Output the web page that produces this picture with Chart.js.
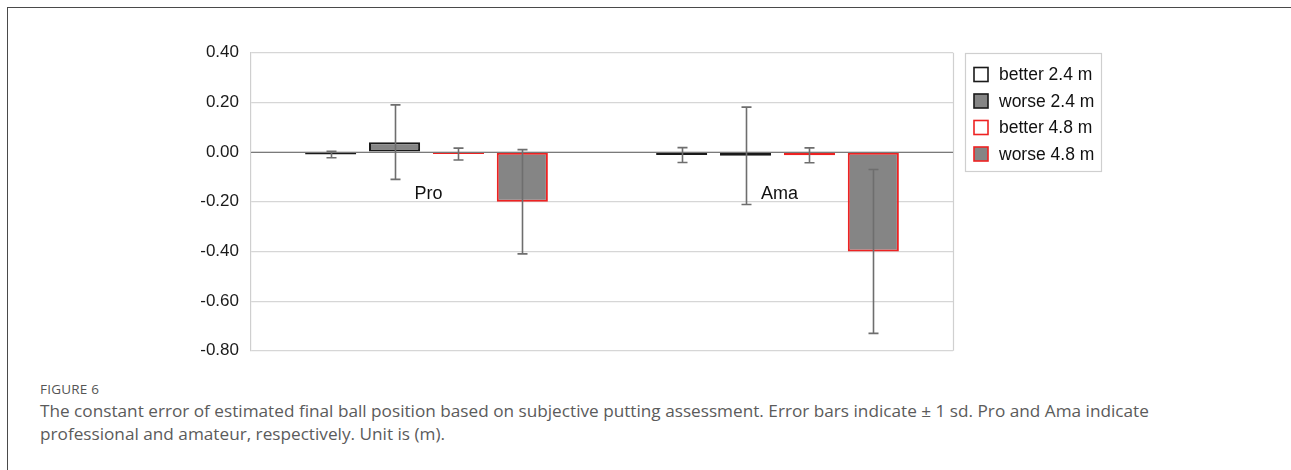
<!DOCTYPE html>
<html>
<head>
<meta charset="utf-8">
<script src="https://cdn.jsdelivr.net/npm/chart.js@4/dist/chart.umd.min.js"></script>
<style>
  html, body { margin: 0; padding: 0; background: #fff; }
  body { width: 1291px; height: 470px; position: relative; overflow: hidden; }
  .frame { position: absolute; left: 7px; top: 7px; right: -2px; bottom: -2px;
           border-top: 1.5px solid #4a4a4a; border-left: 1.5px solid #4a4a4a; }
  .chart { position: absolute; left: 0; top: 0; width: 1291px; height: 373px; }
  .fig { position: absolute; left: 40px; top: 380px; font-family: "Open Sans", sans-serif;
         font-size: 13.5px; color: #555; letter-spacing: 0.2px; }
  .cap { position: absolute; left: 40px; top: 399px; font-family: "Open Sans", sans-serif;
         font-size: 17.2px; line-height: 23px; color: #5b5b5b; }
</style>
</head>
<body>
<div class="frame"></div>
<div class="chart"><canvas id="c" width="1291" height="373"></canvas></div>
<div class="fig">FIGURE 6</div>
<div class="cap">The constant error of estimated final ball position based on subjective putting assessment. Error bars indicate ± 1 sd. Pro and Ama indicate<br>professional and amateur, respectively. Unit is (m).</div>
<script>
// Groups and mean constant error (m) per condition
const groups = ["Pro", "Ama"];
const better24 = [-0.010, -0.012];
const worse24 = [0.040, -0.015];
const better48 = [-0.008, -0.013];
const worse48 = [-0.200, -0.400];
// Standard deviations for the error bars
const better24Sd = [0.013, 0.030];
const worse24Sd = [0.150, 0.196];
const better48Sd = [0.024, 0.030];
const worse48Sd = [0.210, 0.330];
// Axis ticks
const yTicks = [0.40, 0.20, 0.00, -0.20, -0.40, -0.60, -0.80];

const seriesLabels = ["better 2.4 m", "worse 2.4 m", "better 4.8 m", "worse 4.8 m"];
const sds = [better24Sd, worse24Sd, better48Sd, worse48Sd];

function ds(label, data, fill, stroke) {
  return { label, data, backgroundColor: fill, borderColor: stroke, borderWidth: 2,
           borderSkipped: false, categoryPercentage: 0.728, barPercentage: 0.8 };
}

const errorBars = {
  id: "errorBars",
  afterDatasetsDraw(chart) {
    const ctx = chart.ctx, y = chart.scales.y;
    ctx.save();
    ctx.strokeStyle = "#6e6e6e";
    ctx.lineWidth = 1.6;
    chart.data.datasets.forEach((d, i) => {
      const meta = chart.getDatasetMeta(i);
      meta.data.forEach((el, j) => {
        const v = d.data[j], s = sds[i][j];
        const yt = y.getPixelForValue(v + s), yb = y.getPixelForValue(v - s);
        const x = Math.round(el.x) + 0.5;
        ctx.beginPath();
        ctx.moveTo(x, yt); ctx.lineTo(x, yb);
        ctx.moveTo(x - 5, yt); ctx.lineTo(x + 5, yt);
        ctx.moveTo(x - 5, yb); ctx.lineTo(x + 5, yb);
        ctx.stroke();
      });
    });
    ctx.restore();
  }
};

const plotFrame = {
  id: "plotFrame",
  beforeDatasetsDraw(chart) {
    const { ctx, chartArea: a } = chart;
    ctx.save();
    ctx.strokeStyle = "#d0d0d0";
    ctx.lineWidth = 1.2;
    ctx.beginPath();
    ctx.moveTo(a.right + 0.5, a.top); ctx.lineTo(a.right + 0.5, a.bottom);
    ctx.stroke();
    ctx.restore();
  },
  afterDatasetsDraw(chart) {
    // zero line on top of the bars
    const { ctx, chartArea: a } = chart;
    const y0 = Math.round(chart.scales.y.getPixelForValue(0)) + 0.5;
    ctx.save();
    ctx.strokeStyle = "#7a7a7a";
    ctx.lineWidth = 1.2;
    ctx.beginPath();
    ctx.moveTo(a.left, y0); ctx.lineTo(a.right, y0);
    ctx.stroke();
    ctx.restore();
  }
};

const groupLabels = {
  id: "groupLabels",
  afterDraw(chart) {
    const ctx = chart.ctx, x = chart.scales.x, y = chart.scales.y;
    ctx.save();
    ctx.font = "18px 'Liberation Sans', Arial, sans-serif";
    ctx.fillStyle = "#111";
    ctx.textAlign = "center";
    ctx.textBaseline = "middle";
    groups.forEach((g, i) => {
      ctx.fillText(g, x.getPixelForValue(i) + 2, y.getPixelForValue(-0.168));
    });
    ctx.restore();
  }
};

const boxedLegend = {
  id: "boxedLegend",
  afterDraw(chart) {
    const ctx = chart.ctx;
    const left = 965.5, top = 53.5, w = 136, h = 118;
    ctx.save();
    ctx.strokeStyle = "#cfcfcf";
    ctx.lineWidth = 1.2;
    ctx.strokeRect(left, top, w, h);
    ctx.font = "17.5px 'Liberation Sans', Arial, sans-serif";
    ctx.textBaseline = "middle";
    ctx.textAlign = "left";
    chart.data.datasets.forEach((d, i) => {
      const cy = 74.5 + i * 26.5;
      ctx.fillStyle = d.backgroundColor;
      ctx.fillRect(974, cy - 7, 14, 14);
      ctx.strokeStyle = d.borderColor;
      ctx.lineWidth = 1.6;
      ctx.strokeRect(974, cy - 7, 14, 14);
      ctx.fillStyle = "#111";
      ctx.fillText(d.label, 999, cy + 1);
    });
    ctx.restore();
  }
};

new Chart(document.getElementById("c"), {
  type: "bar",
  data: {
    labels: groups,
    datasets: [
      ds(seriesLabels[0], better24, "#ffffff", "#1a1a1a"),
      ds(seriesLabels[1], worse24, "#858585", "#1a1a1a"),
      ds(seriesLabels[2], better48, "#ffffff", "#ee2222"),
      ds(seriesLabels[3], worse48, "#858585", "#ee2222")
    ]
  },
  options: {
    responsive: false,
    animation: false,
    events: [],
    layout: { padding: { left: 0, right: 338, top: 52.7, bottom: 0 } },
    plugins: { legend: { display: false }, tooltip: { enabled: false } },
    scales: {
      x: { display: false },
      y: {
        min: -0.8, max: 0.4,
        afterFit(s) { s.width = 251; },
        afterBuildTicks(s) { s.ticks = yTicks.map(v => ({ value: v })); },
        border: { display: true, color: "#cfcfcf", width: 1.2 },
        grid: { color: "#d6d6d6", lineWidth: 1.2, drawTicks: false },
        ticks: {
          padding: 12,
          color: "#1a1a1a",
          font: { family: "'Liberation Sans', Arial, sans-serif", size: 17 },
          callback: v => v.toFixed(2)
        }
      }
    }
  },
  plugins: [plotFrame, errorBars, groupLabels, boxedLegend]
});
</script>
</body>
</html>
